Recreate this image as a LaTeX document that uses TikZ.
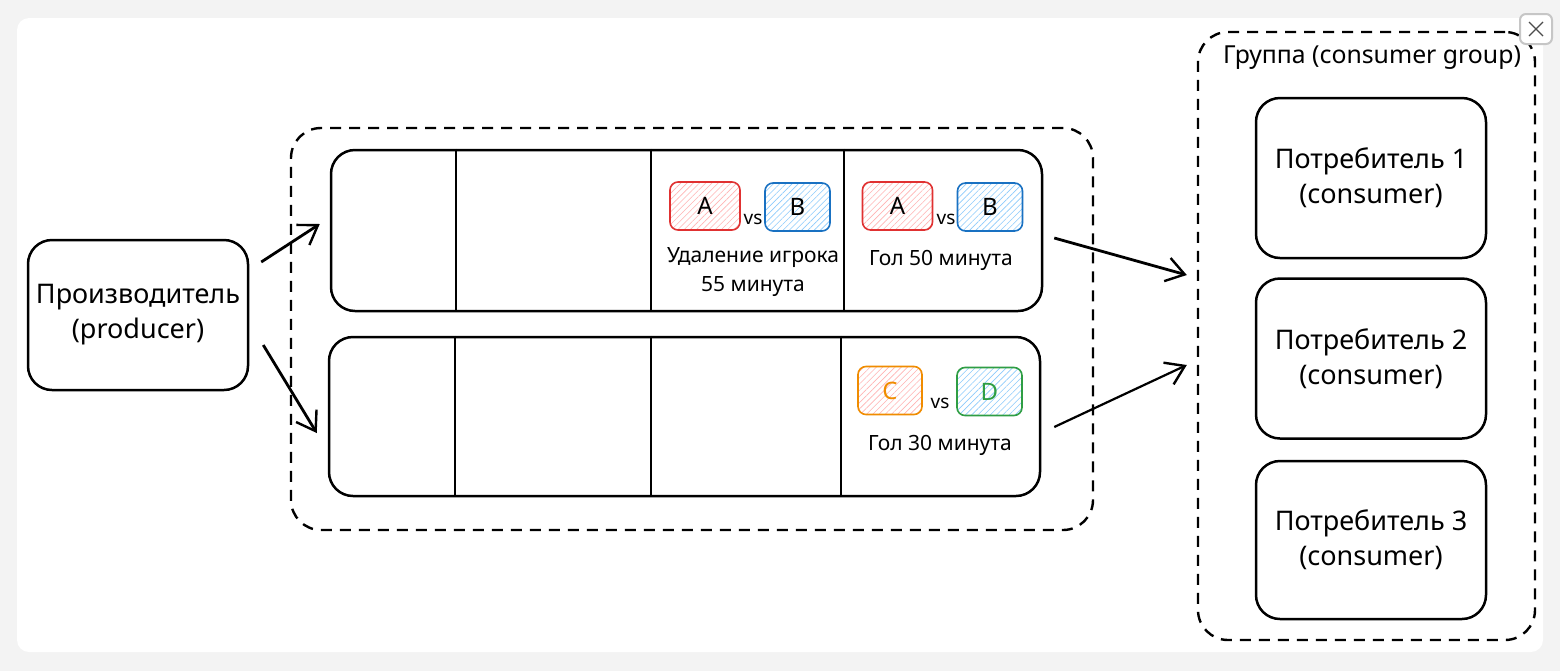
\documentclass[tikz,border=0pt]{standalone}
\usepackage{fontspec}
\setmainfont{Noto Sans}
\usetikzlibrary{arrows.meta,calc,positioning,patterns.meta}
\definecolor{bggray}{HTML}{F3F3F3}
\definecolor{xred}{HTML}{E03131}
\definecolor{xredfill}{HTML}{FFB3B3}
\definecolor{xblue}{HTML}{1971C2}
\definecolor{xbluefill}{HTML}{8CCBFC}
\definecolor{xorange}{HTML}{F08C00}
\definecolor{xgreen}{HTML}{2F9E44}
\tikzset{
  box/.style={draw, line width=1.25pt, rounded corners=12pt, align=center,
    inner sep=0pt, font=\fontsize{13.5}{17.5}\selectfont},
  dashbox/.style={draw, line width=1.2pt, dash pattern=on 5.5pt off 4pt,
    rounded corners=15pt, inner sep=0pt},
  partbox/.style={draw, line width=1.25pt, rounded corners=12pt,
    minimum width=355.5pt, inner sep=0pt},
  team/.style 2 args={draw=#1, line width=0.8pt, rounded corners=4pt,
    pattern={Lines[angle=45,distance=2.2pt,line width=0.3pt]}, pattern color=#2,
    minimum width=35pt, minimum height=24pt, inner sep=0pt,
    font=\fontsize{12}{12}\selectfont},
  vstext/.style={font=\fontsize{9.5}{9.5}\selectfont, inner sep=0pt},
  event/.style={align=center, font=\fontsize{10.5}{14.5}\selectfont},
  arr/.style={-{Straight Barb[length=9pt,width=12pt,line width=1.2pt]}, line width=1.4pt},
}
\begin{document}
\begin{tikzpicture}[x=0.5pt,y=-0.5pt]
  % Background
  \fill[bggray] (0,0) rectangle (1560,671);
  \fill[white, rounded corners=6pt] (17,18) rectangle (1543,652);
  \useasboundingbox (0,0) rectangle (1560,671);
  % Producer
  \node[box, minimum width=110pt, minimum height=75pt] (producer) at (138,315) {Производитель\\(producer)};
  % Topic and its partitions
  \node[dashbox, minimum width=401pt, minimum height=201pt] (topic) at (692,329) {};
  \node[partbox, minimum height=80.5pt] (part1) at (686.5,230.5) {};
  \node[partbox, minimum height=79.5pt] (part2) at (684.5,416.5) {};
  % Partition cells
  \foreach \x in {456,651,844}
    \draw[line width=1.25pt] (\x,0 |- part1.north) -- (\x,0 |- part1.south);
  \foreach \x in {455,651,841}
    \draw[line width=1.25pt] (\x,0 |- part2.north) -- (\x,0 |- part2.south);
  % Messages in partition 1
  \node[team={xred}{xredfill}] (teamA1) at (705,206) {A};
  \node[vstext] (vs1) at (753,219) {vs};
  \node[team={xblue}{xbluefill}, minimum width=32.5pt] (teamB1) at (797.5,207) {B};
  \node[event] (ev1) at (753,272) {Удаление игрока\\55 минута};
  \node[team={xred}{xredfill}] (teamA2) at (897.5,206) {A};
  \node[vstext] (vs2) at (946,219) {vs};
  \node[team={xblue}{xbluefill}, minimum width=32.5pt] (teamB2) at (990,207) {B};
  \node[event] (ev2) at (941,260) {Гол 50 минута};
  % Message in partition 2
  \node[team={xorange}{xredfill}, minimum width=32pt, text=xorange] (teamC) at (890,390.5) {C};
  \node[vstext] (vs3) at (940,403) {vs};
  \node[team={xgreen}{xbluefill}, minimum width=32.5pt, text=xgreen] (teamD) at (989.5,391.5) {D};
  \node[event] (ev3) at (940,445) {Гол 30 минута};
  % Consumer group
  \node[dashbox, minimum width=168.5pt, minimum height=304pt] (cgroup) at (1366.5,336) {};
  \node[font=\fontsize{12.4}{12.4}\selectfont] (glabel) at (1372,58) {Группа (consumer group)};
  \node[box, minimum width=115pt, minimum height=80pt] (cons1) at (1371,178) {Потребитель 1\\(consumer)};
  \node[box, minimum width=115pt, minimum height=80pt, below=9pt of cons1] (cons2) {Потребитель 2\\(consumer)};
  \node[box, minimum width=115pt, minimum height=79pt, below=10pt of cons2] (cons3) {Потребитель 3\\(consumer)};
  % Arrows
  \draw[arr] ([xshift=6pt,yshift=26.5pt]producer.east) -- ([xshift=-5pt,yshift=3.25pt]part1.west);
  \draw[arr] ([xshift=7pt,yshift=-15pt]producer.east) -- ([xshift=-5.5pt,yshift=-8.25pt]part2.west);
  \draw[arr] ([xshift=5.5pt,yshift=-3.75pt]part1.east) -- ([xshift=-5pt,yshift=30.5pt]cgroup.west);
  \draw[arr, line width=1.1pt] ([xshift=6.5pt,yshift=-5.25pt]part2.east) -- ([xshift=-5pt,yshift=-14.5pt]cgroup.west);
  % Close button
  \node[draw=gray!45, line width=1pt, rounded corners=3pt, fill=white,
    minimum width=16pt, minimum height=15pt] (close) at (1536,29) {};
  \draw[black!70, line width=0.6pt] ([shift={(-3.5pt,-3.5pt)}]close.center) -- ([shift={(3.5pt,3.5pt)}]close.center);
  \draw[black!70, line width=0.6pt] ([shift={(-3.5pt,3.5pt)}]close.center) -- ([shift={(3.5pt,-3.5pt)}]close.center);
\end{tikzpicture}
\end{document}
